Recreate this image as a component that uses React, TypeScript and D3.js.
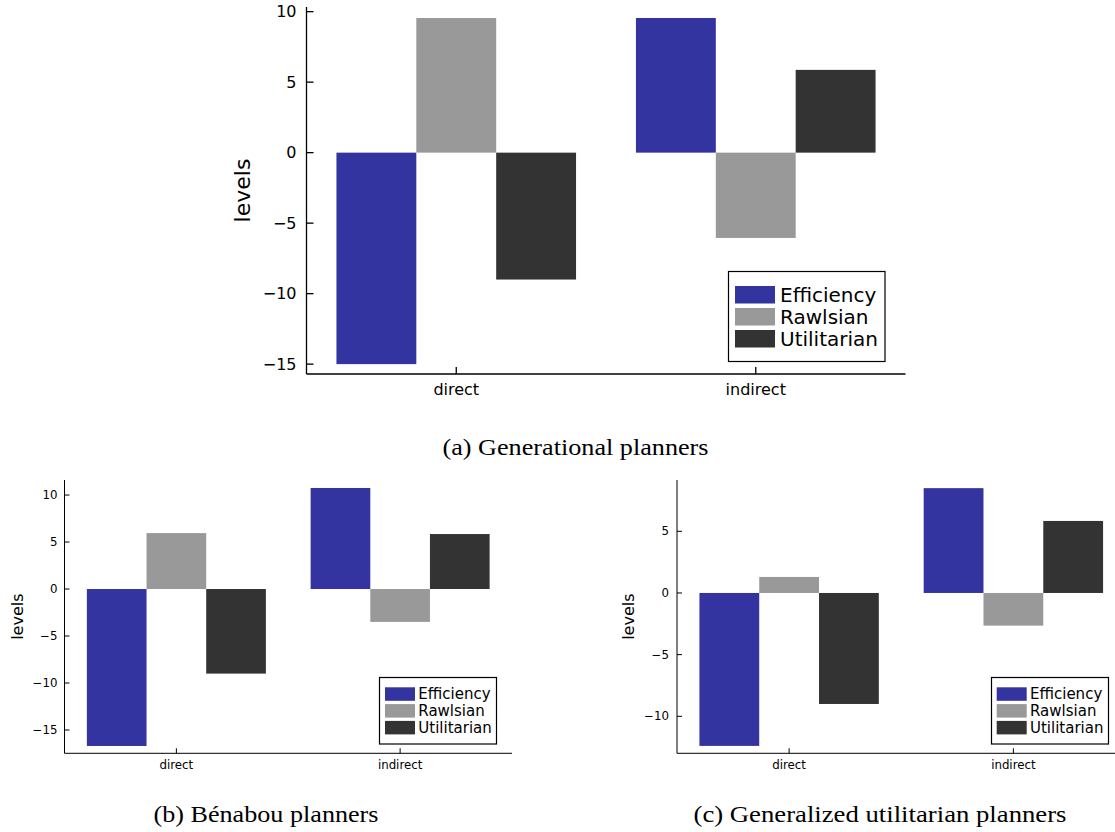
import React from "react";
import * as d3 from "d3";

// Categories and series shared by every panel
const categories = ["direct", "indirect"];
const seriesNames = ["Efficiency", "Rawlsian", "Utilitarian"];
const seriesColors = ["#3434a0", "#999999", "#333333"];

// (a) Generational planners: values per series, [direct, indirect]
const genEfficiency = [-15.0, 9.55];
const genRawlsian = [9.55, -6.05];
const genUtilitarian = [-9.0, 5.87];
const genTicks = [-15, -10, -5, 0, 5, 10];

// (b) Bénabou planners
const benEfficiency = [-16.7, 10.75];
const benRawlsian = [5.95, -3.5];
const benUtilitarian = [-9.0, 5.85];
const benTicks = [-15, -10, -5, 0, 5, 10];

// (c) Generalized utilitarian planners
const guEfficiency = [-12.4, 8.5];
const guRawlsian = [1.3, -2.65];
const guUtilitarian = [-9.0, 5.84];
const guTicks = [-10, -5, 0, 5];

const SANS = "DejaVu Sans, sans-serif";
const SERIF = "'Liberation Serif', 'DejaVu Serif', serif";

type PanelProps = {
  series: number[][];
  ticks: number[];
  xRange: [number, number];
  yDomain: [number, number];
  yRange: [number, number];
  tickFont: number;
  tickGap: number;
  xLabelY: number;
  tickLen: number;
  ylabelX: number;
  ylabelFont: number;
  axisWidth: number;
  legend: {
    x: number; y: number; w: number; h: number;
    sx: number; sw: number; sh: number; rowTop: number; pitch: number;
    tx: number; font: number;
  };
};

function Panel(p: PanelProps) {
  const x = d3.scaleLinear().domain([0.5, categories.length + 0.5]).range(p.xRange);
  const y = d3.scaleLinear().domain(p.yDomain).range(p.yRange);
  const groupWidth = (x(2) - x(1)) * 0.8;
  const band = d3
    .scaleBand<number>()
    .domain(d3.range(seriesNames.length))
    .range([-groupWidth / 2, groupWidth / 2]);
  const x0 = p.xRange[0];
  const yBottom = p.yRange[0];
  const yTop = p.yRange[1];
  const L = p.legend;
  return (
    <g>
      {p.series.map((vals, s) =>
        vals.map((v, c) => {
          const cx = x(c + 1);
          const y0 = y(0);
          const yv = y(v);
          return (
            <rect
              key={`${s}-${c}`}
              x={cx + (band(s) as number)}
              width={band.bandwidth()}
              y={Math.min(y0, yv)}
              height={Math.abs(yv - y0)}
              fill={seriesColors[s]}
            />
          );
        })
      )}
      {/* axes */}
      <line x1={x0} x2={x0} y1={yTop} y2={yBottom} stroke="#000" strokeWidth={p.axisWidth} />
      <line x1={x0} x2={p.xRange[1]} y1={yBottom} y2={yBottom} stroke="#000" strokeWidth={p.axisWidth} />
      {p.ticks.map((t) => (
        <g key={t}>
          <line x1={x0} x2={x0 + p.tickLen} y1={y(t)} y2={y(t)} stroke="#000" strokeWidth={p.axisWidth} />
          <text
            x={x0 - p.tickGap}
            y={y(t)}
            dy="0.35em"
            textAnchor="end"
            fontFamily={SANS}
            fontSize={p.tickFont}
            fill="#000"
          >
            {t < 0 ? `\u2212${Math.abs(t)}` : `${t}`}
          </text>
        </g>
      ))}
      {categories.map((c, i) => (
        <g key={c}>
          <line x1={x(i + 1)} x2={x(i + 1)} y1={yBottom} y2={yBottom - p.tickLen} stroke="#000" strokeWidth={p.axisWidth} />
          <text
            x={x(i + 1)}
            y={p.xLabelY}
            dy="0.35em"
            textAnchor="middle"
            fontFamily={SANS}
            fontSize={p.tickFont}
            fill="#000"
          >
            {c}
          </text>
        </g>
      ))}
      <text
        transform={`translate(${p.ylabelX},${(yTop + yBottom) / 2}) rotate(-90)`}
        textAnchor="middle"
        dy="0.35em"
        fontFamily={SANS}
        fontSize={p.ylabelFont}
        fill="#000"
      >
        levels
      </text>
      {/* legend */}
      <rect x={L.x} y={L.y} width={L.w} height={L.h} fill="#fff" stroke="#000" strokeWidth={1.2} />
      {seriesNames.map((n, i) => (
        <g key={n}>
          <rect x={L.sx} y={L.rowTop + i * L.pitch} width={L.sw} height={L.sh} fill={seriesColors[i]} />
          <text
            x={L.tx}
            y={L.rowTop + i * L.pitch + L.sh / 2}
            dy="0.35em"
            fontFamily={SANS}
            fontSize={L.font}
            fill="#000"
          >
            {n}
          </text>
        </g>
      ))}
    </g>
  );
}

export default function App() {
  return (
    <svg
      width={1115}
      height={832}
      style={{ position: "absolute", left: 0, top: 0, background: "#fff" }}
    >
      <Panel
        series={[genEfficiency, genRawlsian, genUtilitarian]}
        ticks={genTicks}
        xRange={[306.5, 905.5]}
        yDomain={[-15.7, 10.33]}
        yRange={[374, 7]}
        tickFont={16}
        tickGap={10}
        xLabelY={389}
        tickLen={7}
        ylabelX={242}
        ylabelFont={22}
        axisWidth={1.3}
        legend={{ x: 728.5, y: 271.5, w: 156.5, h: 90, sx: 735, sw: 40, sh: 17.5, rowTop: 286, pitch: 22, tx: 780, font: 20 }}
      />
      <Panel
        series={[benEfficiency, benRawlsian, benUtilitarian]}
        ticks={benTicks}
        xRange={[64.5, 512]}
        yDomain={[-17.48, 11.6]}
        yRange={[753.3, 480]}
        tickFont={11.8}
        tickGap={7}
        xLabelY={764.5}
        tickLen={5}
        ylabelX={17}
        ylabelFont={16}
        axisWidth={1}
        legend={{ x: 379.5, y: 677.5, w: 117, h: 66.5, sx: 385, sw: 30, sh: 13.5, rowTop: 687.3, pitch: 16.8, tx: 418.3, font: 15 }}
      />
      <Panel
        series={[guEfficiency, guRawlsian, guUtilitarian]}
        ticks={guTicks}
        xRange={[677, 1125.5]}
        yDomain={[-13.0, 9.16]}
        yRange={[753.3, 480]}
        tickFont={11.8}
        tickGap={8}
        xLabelY={764.5}
        tickLen={5}
        ylabelX={628}
        ylabelFont={16}
        axisWidth={1}
        legend={{ x: 991.5, y: 677.5, w: 117, h: 66.5, sx: 996.7, sw: 30, sh: 13.5, rowTop: 687.3, pitch: 16.8, tx: 1030, font: 15 }}
      />
      <text x={575.5} y={455} textAnchor="middle" fontFamily={SERIF} fontSize={23} textLength={266} lengthAdjust="spacingAndGlyphs" fill="#000">
        (a) Generational planners
      </text>
      <text x={266} y={822} textAnchor="middle" fontFamily={SERIF} fontSize={23} textLength={225} lengthAdjust="spacingAndGlyphs" fill="#000">
        (b) Bénabou planners
      </text>
      <text x={880} y={822} textAnchor="middle" fontFamily={SERIF} fontSize={23} textLength={373} lengthAdjust="spacingAndGlyphs" fill="#000">
        (c) Generalized utilitarian planners
      </text>
    </svg>
  );
}
